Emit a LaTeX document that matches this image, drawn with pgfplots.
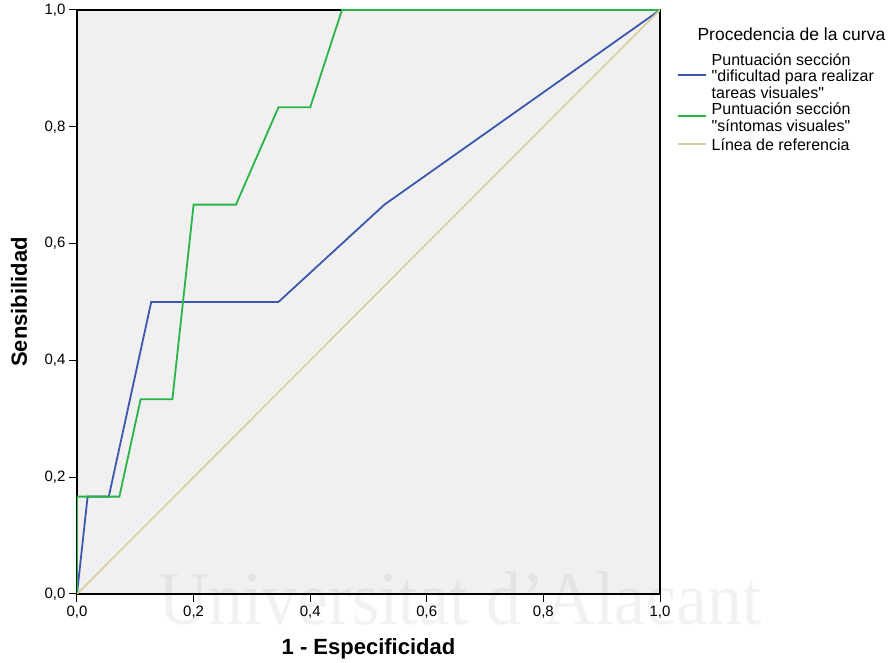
\documentclass[border=0pt]{standalone}
\usepackage{fontspec}
\setmainfont{Liberation Sans}[Ligatures=TeXOff]
\newfontfamily\wmfont{Liberation Serif}
\usepackage{pgfplots}
\pgfplotsset{compat=1.18}
\definecolor{rocblue}{RGB}{60,88,172}
\definecolor{rocgreen}{RGB}{40,180,70}
\definecolor{rocref}{RGB}{214,206,152}
\definecolor{plotbg}{RGB}{240,240,240}
\begin{document}
\begin{tikzpicture}
\useasboundingbox (-77pt,-69pt) rectangle (818pt,594pt);
\begin{axis}[
  anchor=south west, at={(0pt,0pt)},
  scale only axis, width=583pt, height=584pt,
  xmin=0, xmax=1, ymin=0, ymax=1,
  axis background/.style={fill=plotbg},
  axis line style={line width=1.2pt, black},
  xtick={0,0.2,0.4,0.6,0.8,1}, ytick={0,0.2,0.4,0.6,0.8,1},
  tick align=outside, xtick pos=bottom, ytick pos=left,
  major tick length=8pt,
  tick style={line width=1pt, black},
  ticklabel style={font=\fontsize{15}{15}\selectfont},
  /pgf/number format/use comma,
  /pgf/number format/fixed,
  /pgf/number format/fixed zerofill,
  /pgf/number format/precision=1,
  /pgf/number format/assume math mode=true,
  xlabel={1 - Especificidad}, ylabel={Sensibilidad},
  label style={font=\bfseries\fontsize{22}{22}\selectfont},
  xlabel style={at={([yshift=-55pt]axis description cs:0.5,0)}, anchor=center},
  ylabel style={at={([xshift=-58pt]axis description cs:0,0.5)}, anchor=center},
  legend style={at={(1,1)}, anchor=north west, xshift=17pt, yshift=-43pt,
    draw=none, fill=none, font=\fontsize{16}{16}\selectfont,
    row sep=0pt, column sep=4pt, inner sep=0pt,
    nodes={inner sep=0.5pt, text height=11.8pt, text depth=3.6pt}},
  legend cell align=left,
  legend image code/.code={\draw[#1, line width=2pt] (0pt,0.3em) -- (28pt,0.3em);},
]
\addplot[rocblue, line width=1.8pt, forget plot] coordinates {
  (0,0) (0.0182,0.1667) (0.0545,0.1667) (0.1273,0.5) (0.3455,0.5)
  (0.5273,0.6667) (1,1)};
\addplot[rocgreen, line width=1.8pt, forget plot] coordinates {
  (0,0) (0,0.1667) (0.0727,0.1667) (0.1091,0.3333) (0.1636,0.3333)
  (0.2,0.6667) (0.2727,0.6667) (0.3455,0.8333) (0.4,0.8333) (0.4545,1) (1,1)};
\addplot[rocref, line width=1.5pt, forget plot] coordinates {(0,0) (1,1)};
\addlegendimage{empty legend}
\addlegendentry{Puntuación sección}
\addlegendimage{rocblue}
\addlegendentry{"dificultad para realizar}
\addlegendimage{empty legend}
\addlegendentry{tareas visuales"}
\addlegendimage{empty legend}
\addlegendentry{Puntuación sección}
\addlegendimage{rocgreen, yshift=8pt, overlay}
\addlegendentry{"síntomas visuales"}
\addlegendimage{rocref, yshift=-3.5pt, overlay}
\addlegendentry{\raisebox{-3.5pt}{Línea de referencia}}
\end{axis}
\node[anchor=base west, font=\fontsize{17.5}{17.5}\selectfont] at (617pt,553pt) {Procedencia de la curva};
\node[anchor=base, font=\wmfont\fontsize{76}{76}\selectfont, text=black, opacity=0.05, xscale=0.92] at (383pt,-31pt) {Universitat d’Alacant};
\end{tikzpicture}
\end{document}
